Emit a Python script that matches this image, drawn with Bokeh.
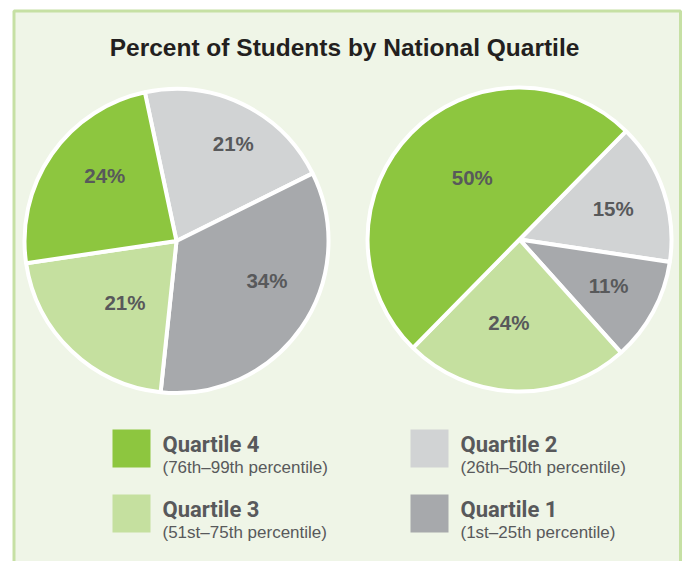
import math
from bokeh.plotting import figure
from bokeh.models import Range1d, ColumnDataSource
from bokeh.core.properties import value
from bokeh.embed import file_html
from bokeh.resources import INLINE

# ---- data ----
chart_title = "Percent of Students by National Quartile"
slice_order = ["Quartile 2", "Quartile 1", "Quartile 3", "Quartile 4"]  # clockwise
left_pct = [21, 34, 21, 24]
right_pct = [15, 11, 24, 50]
legend_names = ["Quartile 4", "Quartile 3", "Quartile 2", "Quartile 1"]
legend_ranges = ["(76th\u201399th percentile)", "(51st\u201375th percentile)",
                 "(26th\u201350th percentile)", "(1st\u201325th percentile)"]

# ---- style / layout ----
colors = {"Quartile 4": "#8DC63F", "Quartile 3": "#C5E09F",
          "Quartile 2": "#D1D3D4", "Quartile 1": "#A7A9AC"}
TEXT_DARK = "#231F20"
TEXT_GRAY = "#58595B"
BG = "#EFF5E7"
BORDER = "#C6E0A4"
SANS = "'Liberation Sans', Arial, sans-serif"
NARROW = "Roboto, 'Liberation Sans', sans-serif"

W, H = 687, 561
p = figure(width=W, height=H, x_range=Range1d(0, W), y_range=Range1d(-H, 0),
           toolbar_location=None, output_backend="svg", min_border=0)
p.axis.visible = False
p.grid.visible = False
p.outline_line_color = None
p.background_fill_color = "white"
p.border_fill_color = "white"

# panel background and border (open at the bottom)
p.quad(left=[13.5], right=[680], top=[-10.5], bottom=[-600], fill_color=BG, line_color=None)
p.multi_line(xs=[[13.5, 13.5, 680, 680]], ys=[[-600, -10.5, -10.5, -600]],
             line_color=BORDER, line_width=3)

# title
p.text(x=[344], y=[-47], text=[chart_title], text_font=value(SANS),
       text_font_style="bold", text_font_size="24.5px", text_color=TEXT_DARK,
       text_align="center", text_baseline="middle")

R = 152


def pie(cx, cy, pcts, start_deg, label_fracs, label_nudge):
    starts, ends, cols, lx, ly, labels = [], [], [], [], [], []
    cum = 0
    for name, v, f, nd in zip(slice_order, pcts, label_fracs, label_nudge):
        end = start_deg - cum * 3.6
        start = end - v * 3.6
        cum += v
        starts.append(math.radians(start))
        ends.append(math.radians(end))
        cols.append(colors[name])
        mid = math.radians((start + end) / 2 + nd)
        lx.append(cx + f * R * math.cos(mid))
        ly.append(cy + f * R * math.sin(mid))
        labels.append(f"{v}%")
    src = ColumnDataSource(dict(x=[cx] * len(pcts), y=[cy] * len(pcts),
                                s=starts, e=ends, c=cols))
    p.wedge(x="x", y="y", radius=R, start_angle="s", end_angle="e",
            direction="anticlock", fill_color="c", line_color="white",
            line_width=4, source=src)
    p.text(x=lx, y=ly, text=labels, text_font=value(SANS), text_font_style="bold",
           text_font_size="20.5px", text_color=TEXT_GRAY, text_align="center",
           text_baseline="middle")


pie(176, -240.5, left_pct, 102, [0.74, 0.65, 0.53, 0.64], [-4.5, 11, 4, -7.7])
pie(519, -239, right_pct, 45.5, [0.65, 0.66, 0.55, 0.51], [0, 1, -6, -8])

# legend
sq_left = [112, 112, 410, 410]
sq_top = [429, 494, 429, 494]
SQ = 38
p.quad(left=sq_left, right=[v + SQ for v in sq_left], top=[-v for v in sq_top],
       bottom=[-(v + SQ) for v in sq_top], fill_color=[colors[n] for n in legend_names],
       line_color=None)
tx = [v + 50 for v in sq_left]
p.text(x=tx, y=[-(v + 14.5) for v in sq_top], text=legend_names, text_font=value(NARROW),
       text_font_style="bold", text_font_size="22px", text_color=TEXT_GRAY,
       text_align="left", text_baseline="middle")
p.text(x=tx, y=[-(v + 38) for v in sq_top], text=legend_ranges,
       text_font=value(SANS), text_font_size="17px", text_color=TEXT_GRAY,
       text_align="left", text_baseline="middle")

open("out.html", "w").write(file_html(p, INLINE))
